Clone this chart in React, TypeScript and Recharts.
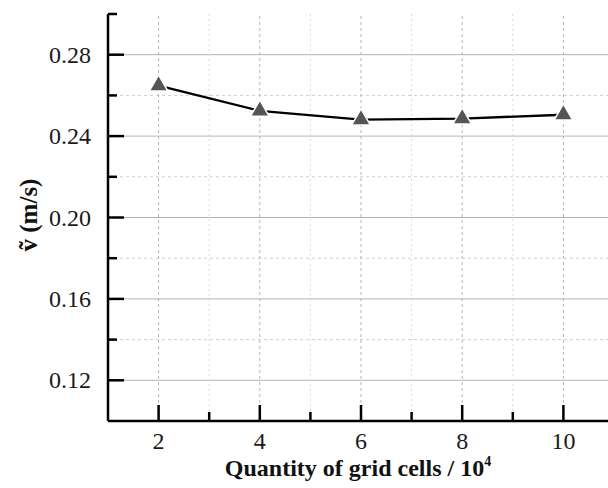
import React from 'react';
import { LineChart, Line, XAxis, YAxis, ReferenceLine, Symbols } from 'recharts';

const gridCells = [2, 4, 6, 8, 10];
const velocity = [0.2648, 0.2524, 0.2481, 0.2486, 0.2505];
const xMajorTicks = [2, 4, 6, 8, 10];
const xMinorTicks = [3, 5, 7, 9];
const yMajorTicks = [0.12, 0.16, 0.2, 0.24, 0.28];
const yMinorTicks = [0.14, 0.18, 0.22, 0.26, 0.3];
const yTickLabels = ['0.12', '0.16', '0.20', '0.24', '0.28'];

const data = gridCells.map((x, i) => ({ x, v: velocity[i] }));
const FONT = "'Liberation Serif', 'Times New Roman', serif";

const XTick = (props: any) => {
  const { x, y, payload } = props;
  const major = xMajorTicks.includes(payload.value);
  const len = major ? 16 : 9;
  return (
    <g>
      <line x1={x} x2={x} y1={y} y2={y - len} stroke="#000" strokeWidth={2.5} />
      {major && (
        <text x={x} y={y + 28} textAnchor="middle" fontFamily={FONT} fontSize={24} fill="#1a1a1a">
          {payload.value}
        </text>
      )}
    </g>
  );
};

const YTick = (props: any) => {
  const { x, y, payload } = props;
  const idx = yMajorTicks.findIndex((t) => Math.abs(t - payload.value) < 1e-9);
  const major = idx >= 0;
  const len = major ? 16 : 9;
  return (
    <g>
      <line x1={x} x2={x + len} y1={y} y2={y} stroke="#000" strokeWidth={2.5} />
      {major && (
        <text x={x - 17} y={y + 8} textAnchor="end" fontFamily={FONT} fontSize={24} fill="#1a1a1a">
          {yTickLabels[idx]}
        </text>
      )}
    </g>
  );
};

const TriangleDot = (props: any) => (
  <Symbols
    key={props.index}
    cx={props.cx}
    cy={props.cy}
    type="triangle"
    size={150}
    fill="#555555"
    stroke="#ffffff"
    strokeWidth={1.5}
  />
);

export default function App() {
  const xTicks = [...xMajorTicks, ...xMinorTicks].sort((a, b) => a - b);
  const yTicks = [...yMajorTicks, ...yMinorTicks].sort((a, b) => a - b);
  return (
    <div style={{ position: 'absolute', left: 0, top: 0, width: 608, height: 488, overflow: 'hidden', background: '#fff' }}>
      <LineChart width={640} height={488} data={data} margin={{ top: 14, right: 26, left: 0, bottom: 0 }}>
        {yMajorTicks.map((v) => (
          <ReferenceLine key={'ym' + v} y={v} stroke="#b4b4b4" strokeWidth={1} />
        ))}
        {yMinorTicks.filter((v) => v < 0.29).map((v) => (
          <ReferenceLine key={'yn' + v} y={v} stroke="#cfcfcf" strokeWidth={1} strokeDasharray="3 3" />
        ))}
        {xMajorTicks.map((v) => (
          <ReferenceLine key={'xm' + v} x={v} stroke="#b4b4b4" strokeWidth={1} strokeDasharray="3 3" />
        ))}
        {xMinorTicks.map((v) => (
          <ReferenceLine key={'xn' + v} x={v} stroke="#d8d8d8" strokeWidth={1} strokeDasharray="2 3" />
        ))}
        <XAxis
          dataKey="x"
          type="number"
          domain={[1, 11]}
          ticks={xTicks}
          interval={0}
          allowDataOverflow
          height={67}
          tickLine={false}
          tickSize={0}
          tickMargin={0}
          axisLine={{ stroke: '#000', strokeWidth: 2.5 }}
          tick={<XTick />}
        />
        <YAxis
          type="number"
          domain={[0.1, 0.3]}
          ticks={yTicks}
          interval={0}
          allowDataOverflow
          width={108}
          tickLine={false}
          tickSize={0}
          tickMargin={0}
          axisLine={{ stroke: '#000', strokeWidth: 2.5 }}
          tick={<YTick />}
        />
        <Line
          dataKey="v"
          stroke="#000"
          strokeWidth={2.3}
          dot={TriangleDot}
          activeDot={false}
          isAnimationActive={false}
        />
      </LineChart>
      <svg width={608} height={488} style={{ position: 'absolute', left: 0, top: 0, pointerEvents: 'none' }}>
        <text transform="rotate(-90)" x={-215} y={37} textAnchor="middle" fontFamily={FONT} fontWeight="bold" fontSize={25} fill="#111">
          {'v\u0303 (m/s)'}
        </text>
        <text x={358} y={476} textAnchor="middle" fontFamily={FONT} fontWeight="bold" fontSize={24} fill="#111">
          Quantity of grid cells / 10
          <tspan dy={-10} fontSize={14}>4</tspan>
        </text>
      </svg>
    </div>
  );
}
